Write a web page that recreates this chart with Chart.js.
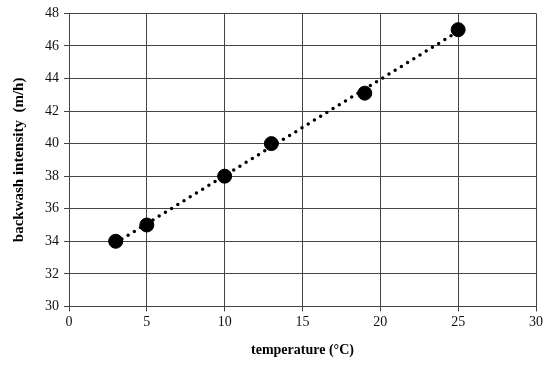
<!DOCTYPE html>
<html>
<head>
<meta charset="utf-8">
<script src="https://cdn.jsdelivr.net/npm/chart.js@4"></script>
<style>
  html, body { margin: 0; padding: 0; background: #fff; }
  #wrap { width: 550px; height: 366px; }
</style>
</head>
<body>
<div id="wrap"><canvas id="c"></canvas></div>
<script>
const temperature = [3, 5, 10, 13, 19, 25];
const intensity = [34, 35, 38, 40, 43.1, 47];
// trendline end points
const trendX = [3, 25];
const trendY = [33.9, 46.9];
const xTicks = [0, 5, 10, 15, 20, 25, 30];
const yTicks = [30, 32, 34, 36, 38, 40, 42, 44, 46, 48];

const font = "'Liberation Serif', 'DejaVu Serif', serif";
const ctx = document.getElementById('c');

new Chart(ctx, {
  type: 'scatter',
  data: {
    datasets: [
      {
        type: 'line',
        data: trendX.map((x, i) => ({ x: x, y: trendY[i] })),
        borderColor: '#000',
        borderWidth: 3.5,
        borderDash: [0, 7.3],
        borderCapStyle: 'round',
        pointRadius: 0,
        fill: false
      },
      {
        data: temperature.map((x, i) => ({ x: x, y: intensity[i] })),
        backgroundColor: '#000',
        borderColor: '#000',
        pointRadius: 7,
        pointHoverRadius: 7
      }
    ]
  },
  options: {
    responsive: true,
    maintainAspectRatio: false,
    animation: false,
    layout: { padding: { top: 8, right: 14, left: 6, bottom: 3 } },
    plugins: {
      legend: { display: false },
      tooltip: { enabled: false }
    },
    scales: {
      x: {
        type: 'linear',
        min: 0,
        max: 30,
        afterBuildTicks: axis => { axis.ticks = xTicks.map(v => ({ value: v })); },
        grid: { color: '#444', lineWidth: 1, tickLength: 5 },
        border: { color: '#444', width: 1 },
        ticks: { color: '#111', font: { family: font, size: 14 }, padding: 3 },
        title: {
          display: true,
          text: 'temperature (°C)',
          color: '#000',
          font: { family: font, size: 14, weight: 'bold' },
          padding: { top: 8 }
        }
      },
      y: {
        type: 'linear',
        min: 30,
        max: 48,
        afterBuildTicks: axis => { axis.ticks = yTicks.map(v => ({ value: v })); },
        grid: { color: '#444', lineWidth: 1, tickLength: 5 },
        border: { color: '#444', width: 1 },
        ticks: { color: '#111', font: { family: font, size: 14 }, padding: 5 },
        title: {
          display: true,
          text: 'backwash intensity  (m/h)',
          color: '#000',
          font: { family: font, size: 15, weight: 'bold' },
          padding: { bottom: 12 }
        }
      }
    }
  }
});
</script>
</body>
</html>
